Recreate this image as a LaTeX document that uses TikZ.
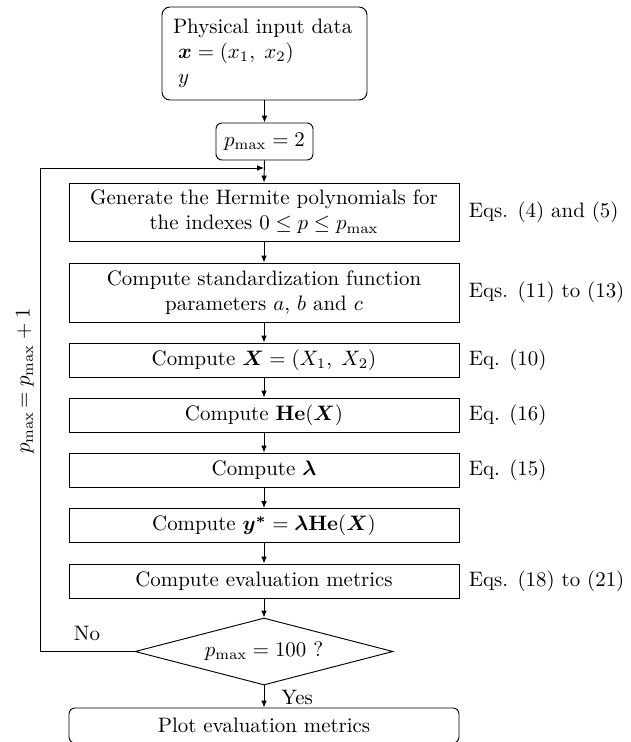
\documentclass[tikz,border=0pt]{standalone}
\usepackage{amsmath,bm}
\usetikzlibrary{shapes.geometric,arrows.meta,calc}
\newcommand\pxu{0.4785pt}
\begin{document}
\begin{tikzpicture}[x=\pxu,y=-\pxu,
  line width=0.45pt,
  arr/.style={-{Latex[length=3.3pt,width=2.7pt]}},
  box/.style={draw,minimum width=390*\pxu,inner sep=0pt,align=center},
  onebox/.style={box,minimum height=34*\pxu},
  twobox/.style={box,minimum height=58*\pxu},
  eqlab/.style={anchor=west,inner sep=0pt,xshift=9*\pxu},
  lab/.style={inner sep=0pt}
]
\useasboundingbox (0,0) rectangle (630,742);

\node[draw, rounded corners=8*\pxu, minimum width=205*\pxu, minimum height=93*\pxu,
      text width=183*\pxu, inner xsep=11*\pxu, inner ysep=0pt, align=left] (inp) at (264.5,53.5)
  {Physical input data\\ \hspace*{2.5pt}$\bm{x}=(x_1,\; x_2)$\\ \hspace*{2.5pt}$y$};

\node[draw, rounded corners=6*\pxu, minimum width=97*\pxu, minimum height=37*\pxu, inner sep=0pt] (pm) at (264.5,141.5) {$p_{\max}=2$};

\node[twobox] (gen) at (264,212) {Generate the Hermite polynomials for\\the indexes $0\le p\le p_{\max}$};
\node[twobox, minimum height=59*\pxu] (std) at (264,292.5) {Compute standardization function\\parameters $a$, $b$ and $c$};
\node[onebox] (cx) at (264,360) {Compute $\bm{X}=(X_1,\; X_2)$};
\node[onebox] (che) at (264,415) {Compute $\mathbf{He}(\bm{X})$};
\node[onebox] (clam) at (264,470) {Compute $\bm{\lambda}$};
\node[onebox] (cy) at (264,525.5) {Compute $\bm{y^*}=\bm{\lambda}\mathbf{He}(\bm{X})$};
\node[onebox] (cev) at (264,581) {Compute evaluation metrics};
\node[diamond, draw, minimum width=258*\pxu, minimum height=67*\pxu, inner sep=0pt, aspect=3.85] (dia) at (264,651.5) {$p_{\max}=100$ ?};
\node[box, rounded corners=6*\pxu, minimum height=35*\pxu] (plot) at (264,725.5) {Plot evaluation metrics};

\node[eqlab] (e1) at (gen.east) {Eqs. (4) and (5)};
\node[eqlab] (e2) at (std.east) {Eqs. (11) to (13)};
\node[eqlab] (e3) at (cx.east) {Eq. (10)};
\node[eqlab] (e4) at (che.east) {Eq. (16)};
\node[eqlab] (e5) at (clam.east) {Eq. (15)};
\node[eqlab] (e6) at (cev.east) {Eqs. (18) to (21)};

\draw[arr] (inp.south) -- (pm.north);
\draw[arr] (pm.south) -- (gen.north);
\draw[arr] (gen.south) -- (std.north);
\draw[arr] (std.south) -- (cx.north);
\draw[arr] (cx.south) -- (che.north);
\draw[arr] (che.south) -- (clam.north);
\draw[arr] (clam.south) -- (cy.north);
\draw[arr] (cy.south) -- (cev.north);
\draw[arr] (cev.south) -- (dia.north);
\draw[arr] (dia.south) -- (plot.north);

\coordinate (j) at (264,168);
\coordinate (c1) at (40,651.5);
\coordinate (c2) at (40,168);
\draw[arr] (dia.west) -- (c1) -- (c2) -- (j);

\node[lab, rotate=90] (loopl) at (25,381) {$p_{\max}\!= p_{\max}+1$};
\node[lab] (no) at (87,633) {No};
\node[lab, anchor=west] (yes) at (281,697) {Yes};
\end{tikzpicture}
\end{document}
